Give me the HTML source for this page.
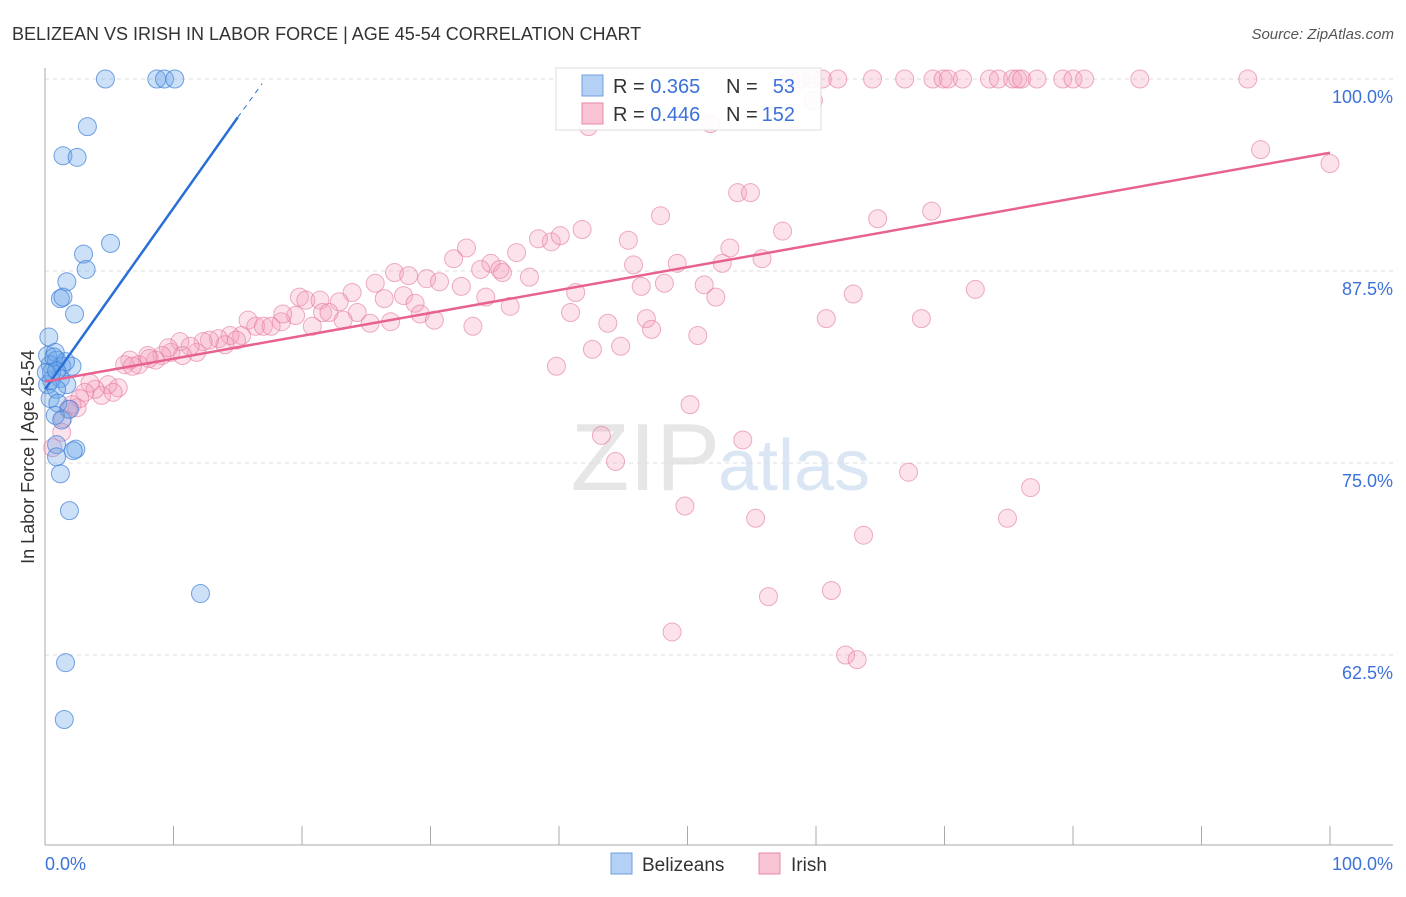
<!DOCTYPE html>
<html><head><meta charset="utf-8"><style>
body{margin:0;background:#fff;font-family:"Liberation Sans",sans-serif;}
svg text{font-family:"Liberation Sans",sans-serif;}
</style></head><body>
<svg width="1406" height="892" viewBox="0 0 1406 892">
<text x="12" y="40" font-size="18" fill="#333">BELIZEAN VS IRISH IN LABOR FORCE | AGE 45-54 CORRELATION CHART</text>
<text x="1394" y="39" font-size="15" fill="#555" font-style="italic" text-anchor="end">Source: ZipAtlas.com</text>
<text x="720" y="490" font-size="96" fill="#e6e6e6" text-anchor="end" font-family="Liberation Serif">ZIP</text>
<text x="718" y="490" font-size="72" fill="#dbe6f5">atlas</text>
<g id="grid"></g>
<g id="axes"></g>
<g id="pts"></g>
<g id="trend"></g>
<text transform="translate(34,457) rotate(-90)" font-size="18" fill="#333" text-anchor="middle">In Labor Force | Age 45-54</text>
<text x="45" y="870" font-size="18" fill="#3b72d9">0.0%</text>
<text x="1393" y="870" font-size="18" fill="#3b72d9" text-anchor="end">100.0%</text>
<g>
<rect x="556" y="68" width="265" height="62" fill="#fff" fill-opacity="0.9" stroke="#ddd"/>
<rect x="582" y="75" width="21" height="21" fill="#b5d0f5" stroke="#6fa0e0"/>
<rect x="582" y="103" width="21" height="21" fill="#f8c3d3" stroke="#e88aab"/>
<text x="613" y="93" font-size="20" fill="#333">R = <tspan fill="#3b72d9">0.365</tspan></text>
<text x="726" y="93" font-size="20" fill="#333">N = </text><text x="795" y="93" font-size="20" fill="#3b72d9" text-anchor="end">53</text>
<text x="613" y="121" font-size="20" fill="#333">R = <tspan fill="#3b72d9">0.446</tspan></text>
<text x="726" y="121" font-size="20" fill="#333">N = </text><text x="795" y="121" font-size="20" fill="#3b72d9" text-anchor="end">152</text>
</g>
<g>
<rect x="611" y="853" width="21" height="21" fill="#b5d0f5" stroke="#6fa0e0"/>
<text x="642" y="871" font-size="19" fill="#333">Belizeans</text>
<rect x="759" y="853" width="21" height="21" fill="#f8c3d3" stroke="#e88aab"/>
<text x="791" y="871" font-size="19" fill="#333">Irish</text>
</g>
</svg>
<script>
const yTicks=[100,87.5,75,62.5];
const yTickLabels=["100.0%","87.5%","75.0%","62.5%"];
const xTicks=[0,10,20,30,40,50,60,70,80,90,100];
const blueX=[4.7,8.7,9.3,10.1,3.3,1.4,2.5,5.1,3.0,3.2,1.7,1.2,1.4,2.3,0.3,0.2,0.8,0.4,0.9,1.3,2.1,0.5,1.2,1.7,0.2,0.9,0.4,1.0,1.9,0.8,1.3,0.9,2.4,2.2,0.9,1.2,1.9,12.1,1.6,1.5,0.5,0.1,0.7,1.6,0.9];
const blueY=[100,100,100,100,96.9,95.0,94.9,89.3,88.6,87.6,86.8,85.7,85.8,84.7,83.2,82.0,82.2,81.4,81.7,81.3,81.3,80.4,80.5,80.1,80.1,79.8,79.2,78.9,78.5,78.1,77.8,76.2,75.9,75.8,75.4,74.3,71.9,66.5,62.0,58.3,80.9,80.9,81.9,81.6,81.0];
const pinkX=[58.0,58.8,59.7,60.5,61.7,64.4,66.9,69.1,69.9,70.3,71.4,73.5,74.2,75.3,75.7,76.0,77.2,79.2,80.0,80.9,85.2,93.6,59.8,
42.3,51.8,94.6,100,53.9,54.9,47.9,64.8,69.0,57.4,41.8,39.4,38.4,40.1,36.7,32.8,31.8,45.4,53.3,55.8,52.7,49.2,45.8,34.7,33.9,35.6,37.7,35.4,27.2,28.3,29.7,25.7,30.7,32.4,34.3,41.3,46.4,48.2,51.3,52.2,62.9,72.4,27.9,26.4,23.9,19.8,20.3,21.4,22.9,24.3,28.8,29.2,30.3,36.2,40.9,33.3,43.8,46.8,47.2,50.8,60.8,68.2,23.2,25.3,26.9,20.8,21.6,22.1,19.5,18.4,18.5,15.8,16.4,17.0,17.6,15.3,14.4,14.9,13.5,14.0,12.8,12.3,11.8,11.3,10.5,9.8,9.6,10.7,9.1,8.6,8.0,7.3,6.6,6.2,6.8,42.6,44.8,39.8,8.1,5.7,4.9,5.3,4.4,3.9,3.5,3.1,2.7,2.5,2.1,1.8,1.4,1.3,0.6,50.2,43.3,44.4,54.3,67.2,76.7,49.8,55.3,74.9,63.7,56.3,61.2,48.8,62.3,63.2];
const pinkY=[100,100,100,100,100,100,100,100,100,100,100,100,100,100,100,100,100,100,100,100,100,100,98.6,
96.9,97.1,95.4,94.5,92.6,92.6,91.1,90.9,91.4,90.1,90.2,89.4,89.6,89.8,88.7,89.0,88.3,89.5,89.0,88.3,88.0,88.0,87.9,88.0,87.6,87.4,87.1,87.6,87.4,87.2,87.0,86.7,86.8,86.5,85.8,86.1,86.5,86.7,86.6,85.8,86.0,86.3,85.9,85.7,86.1,85.8,85.6,85.6,85.5,84.8,85.4,84.7,84.3,85.2,84.8,83.9,84.1,84.4,83.7,83.3,84.4,84.4,84.3,84.1,84.2,83.9,84.8,84.8,84.6,84.2,84.7,84.3,83.9,83.9,83.9,83.3,83.3,83.0,83.1,82.7,83.0,82.9,82.2,82.6,82.9,82.2,82.5,82.0,82.0,81.7,82.0,81.4,81.7,81.4,81.3,82.4,82.6,81.3,81.8,79.9,80.1,79.6,79.4,79.8,80.2,79.6,79.2,78.6,78.8,78.5,77.9,77.0,76.0,78.8,76.8,75.1,76.5,74.4,73.4,72.2,71.4,71.4,70.3,66.3,66.7,64.0,62.5,62.2];
const blueTrend=[[0,79.8],[15,97.5],[16.9,99.7]];
const pinkTrend=[[0,80.3],[100,95.2]];
const NS="http://www.w3.org/2000/svg";
const xs=v=>45+v*12.85;
const ys=v=>79+(100-v)*15.36;
function mk(t,a,p){const e=document.createElementNS(NS,t);for(const k in a)e.setAttribute(k,a[k]);p.appendChild(e);return e;}
const grid=document.getElementById('grid');
yTicks.forEach((v,i)=>{
 const l=mk('line',{x1:45,x2:1393,y1:ys(v),y2:ys(v),stroke:'#ddd','stroke-dasharray':'4 4'},grid);
 
 
 const t=mk('text',{x:1393,y:ys(v)+24,'font-size':18,fill:'#3b72d9','text-anchor':'end'},grid);
 t.textContent=yTickLabels[i];
 
 
});
const axes=document.getElementById('axes');
mk('line',{x1:45,x2:45,y1:68,y2:845,stroke:'#aaa'},axes);
mk('line',{x1:45,x2:1393,y1:845,y2:845,stroke:'#aaa'},axes);
xTicks.forEach(v=>{const t=mk('line',{x1:xs(v),x2:xs(v),y1:826,y2:845,stroke:'#aaa'},axes);
 
 });
const pts=document.getElementById('pts');
pinkX.forEach((x,i)=>{const c=mk('circle',{cx:xs(x),cy:ys(pinkY[i]),r:9,fill:'rgba(244,160,188,0.3)',stroke:'rgba(226,120,158,0.6)'},pts);
 
 });
blueX.forEach((x,i)=>{const c=mk('circle',{cx:xs(x),cy:ys(blueY[i]),r:9,fill:'rgba(110,165,232,0.35)',stroke:'rgba(60,125,215,0.7)'},pts);
 
 });
const tr=document.getElementById('trend');
const bl=mk('line',{x1:xs(blueTrend[0][0]),y1:ys(blueTrend[0][1]),x2:xs(blueTrend[1][0]),y2:ys(blueTrend[1][1]),stroke:'#2a6fd6','stroke-width':2.5},tr);


const bd=mk('line',{x1:xs(blueTrend[1][0]),y1:ys(blueTrend[1][1]),x2:xs(blueTrend[2][0]),y2:ys(blueTrend[2][1]),stroke:'#2a6fd6','stroke-width':1,'stroke-dasharray':'5 5'},tr);


const pl=mk('line',{x1:xs(pinkTrend[0][0]),y1:ys(pinkTrend[0][1]),x2:xs(pinkTrend[1][0]),y2:ys(pinkTrend[1][1]),stroke:'#e8628f','stroke-width':2.5},tr);


</script>
</body></html>
